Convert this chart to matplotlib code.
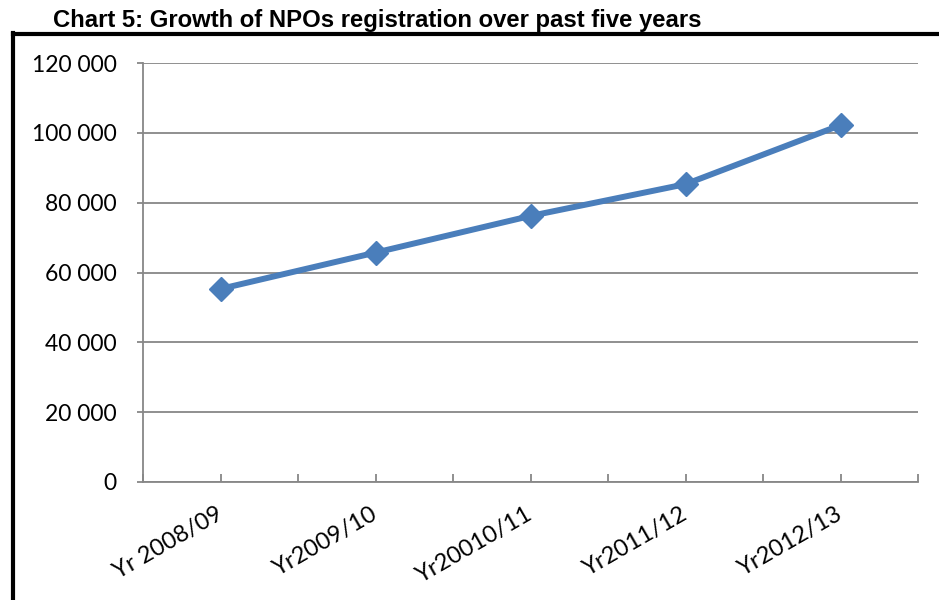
import matplotlib
matplotlib.use("Agg")
import matplotlib.pyplot as plt
from matplotlib.lines import Line2D
from matplotlib.ticker import FuncFormatter, MultipleLocator

categories = ["Yr 2008/09", "Yr2009/10", "Yr20010/11", "Yr2011/12", "Yr2012/13"]
registrations = [55300, 65700, 76200, 85300, 102200]
title = "Chart 5: Growth of NPOs registration over past five years"

W, H = 939, 600
fig = plt.figure(figsize=(W / 100, H / 100), dpi=100)
fig.patch.set_facecolor("white")

ax = fig.add_axes([143 / W, 1 - 482 / H, 775 / W, 419 / H])
x = list(range(len(categories)))
ax.plot(x, registrations, color="#4A7EBB", lw=4.3, marker="D", ms=12.5,
        solid_joinstyle="miter", zorder=3, clip_on=False)

ax.set_xlim(-0.5, len(categories) - 0.5)
ax.set_ylim(0, 120000)
ax.yaxis.set_major_locator(MultipleLocator(20000))
ax.yaxis.set_major_formatter(FuncFormatter(lambda v, p: f"{int(v):,}".replace(",", " ")))
ax.grid(axis="y", color="#878787", lw=1.3)
ax.set_axisbelow(True)
for s in ["top", "right"]:
    ax.spines[s].set_visible(False)
for s in ["left", "bottom"]:
    ax.spines[s].set_color("#878787")
    ax.spines[s].set_linewidth(1.3)

ax.tick_params(axis="y", direction="out", length=4, width=1.3, color="#878787",
               pad=15, labelsize=16.5, labelcolor="black")
for lab in ax.get_yticklabels():
    lab.set_fontfamily("Lato")

ax.set_xticks([i - 0.5 for i in range(len(categories) + 1)] + x)
ax.set_xticklabels([])
ax.tick_params(axis="x", direction="in", length=6, width=1.3, color="#878787")

for i, c in enumerate(categories):
    ax.annotate(c, xy=(i, 0), xycoords="data", xytext=(0.5, -22), textcoords="offset points",
                ha="right", va="center", rotation=30, rotation_mode="anchor",
                fontsize=17, family="Lato", annotation_clip=False)

fig.text(53 / W, 1 - 27 / H, title, fontsize=17.2, fontweight="bold",
         family="Liberation Sans", ha="left", va="baseline")

# outer frame (left and top thick black lines)
fig.add_artist(Line2D([13 / W, 13 / W], [0, 1 - 33 / H], color="black", lw=3,
                      solid_capstyle="projecting", transform=fig.transFigure))
fig.add_artist(Line2D([13 / W, 1], [1 - 34 / H, 1 - 34 / H], color="black", lw=3,
                      solid_capstyle="projecting", transform=fig.transFigure))

fig.savefig("out.png", dpi=100)
